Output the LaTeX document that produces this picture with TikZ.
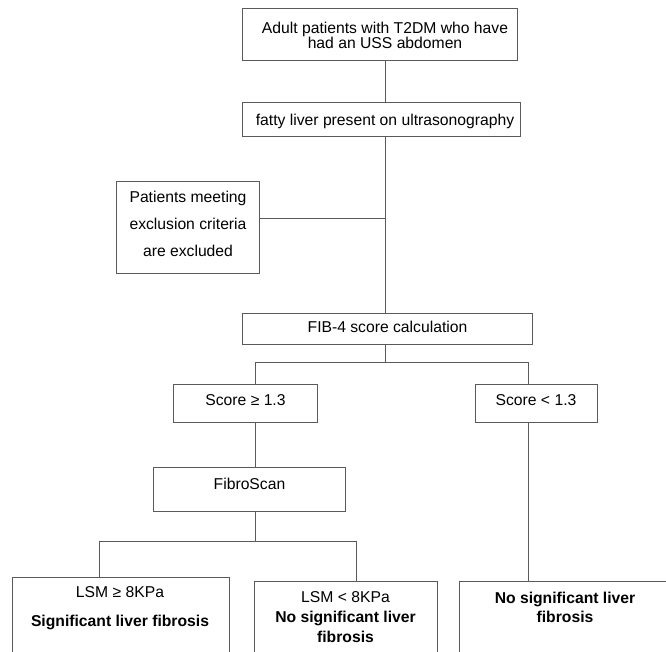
\documentclass[tikz,border=0pt]{standalone}
\usepackage{fontspec}
\setmainfont{Liberation Sans}
\definecolor{ln}{HTML}{5A5A5A}
\tikzset{
  box/.style={draw=ln, line width=1pt, rectangle, inner sep=0pt, outer sep=0pt},
  txt/.style={inner sep=0pt, outer sep=0pt, anchor=base, text=black, align=center},
  conn/.style={draw=ln, line width=1pt},
}
\newcommand{\fsz}[1]{\fontsize{15.7}{#1}\selectfont}
\begin{document}
\begin{tikzpicture}[x=1pt, y=-1pt]
\useasboundingbox (0,0) rectangle (666,652);
\clip (0,0) rectangle (666,652);
% boxes
\node[box, minimum width=275pt, minimum height=52pt] (b1) at (379.5,35) {};
\node[box, minimum width=278pt, minimum height=34pt] (b2) at (381,120) {};
\node[box, minimum width=143pt, minimum height=91pt] (excl) at (187.5,227.5) {};
\node[box, minimum width=290pt, minimum height=31pt] (fib4) at (387,328.5) {};
\node[box, minimum width=144pt, minimum height=38pt] (sge) at (245,403) {};
\node[box, minimum width=122pt, minimum height=38pt] (slt) at (536,403) {};
\node[box, minimum width=192pt, minimum height=44pt] (fs) at (249,489) {};
\node[box, minimum width=217pt, minimum height=103pt] (lsmge) at (120.5,628.5) {};
\node[box, minimum width=183pt, minimum height=99pt] (lsmlt) at (345.5,630.5) {};
\node[box, minimum width=208pt, minimum height=99pt] (nsig) at (563,630.5) {};
% texts (multi-line: anchored at the baseline of the last line)
\node[txt, font=\fsz{15.7}] (t1) at (385,49) {Adult patients with T2DM who have\\had an USS abdomen};
\node[txt, font=\fsz{15.7}] (t2) at (385,126) {fatty liver present on ultrasonography};
\node[txt, font=\fsz{27}] (t3) at (188,257) {Patients meeting\\exclusion criteria\\are excluded};
\node[txt, font=\fsz{15.7}] (t4) at (387.5,332.7) {FIB-4 score calculation};
\node[txt, font=\fsz{15.7}] (t5) at (245.5,405) {Score ≥ 1.3};
\node[txt, font=\fsz{15.7}] (t6) at (536,405) {Score < 1.3};
\node[txt, font=\fsz{15.7}] (t7) at (249.5,489.3) {FibroScan};
\node[txt, font=\fsz{28.7}] (t8) at (120,626) {LSM ≥ 8KPa\\\textbf{Significant liver fibrosis}};
\node[txt, font=\fsz{20.2}] (t9) at (345.5,642.7) {LSM < 8KPa\\\textbf{No significant liver}\\\textbf{fibrosis}};
\node[txt, font=\fsz{19.5}] (t10) at (565,622.7) {\textbf{No significant liver}\\\textbf{fibrosis}};
% connector points
\coordinate (tx) at (385,219);
\coordinate (f1) at (385,362);
\coordinate (fl) at (255,362);
\coordinate (fr) at (528,362);
\coordinate (g1) at (255,541.5);
\coordinate (gl) at (99,541.5);
\coordinate (gr) at (356,541.5);
% connectors
\draw[conn] (b1.south -| tx) -- (b2.north -| tx);
\draw[conn] (b2.south -| tx) -- (fib4.north -| tx);
\draw[conn] (excl.east |- tx) -- (tx);
\draw[conn] (fib4.south -| f1) -- (f1);
\draw[conn] (fl |- sge.north) -- (fl) -- (fr) -- (fr |- slt.north);
\draw[conn] (sge.south -| fl) -- (fs.north -| fl);
\draw[conn] (fs.south -| g1) -- (g1);
\draw[conn] (gl |- lsmge.north) -- (gl) -- (gr) -- (gr |- lsmlt.north);
\draw[conn] (slt.south -| fr) -- (nsig.north -| fr);
\end{tikzpicture}
\end{document}
